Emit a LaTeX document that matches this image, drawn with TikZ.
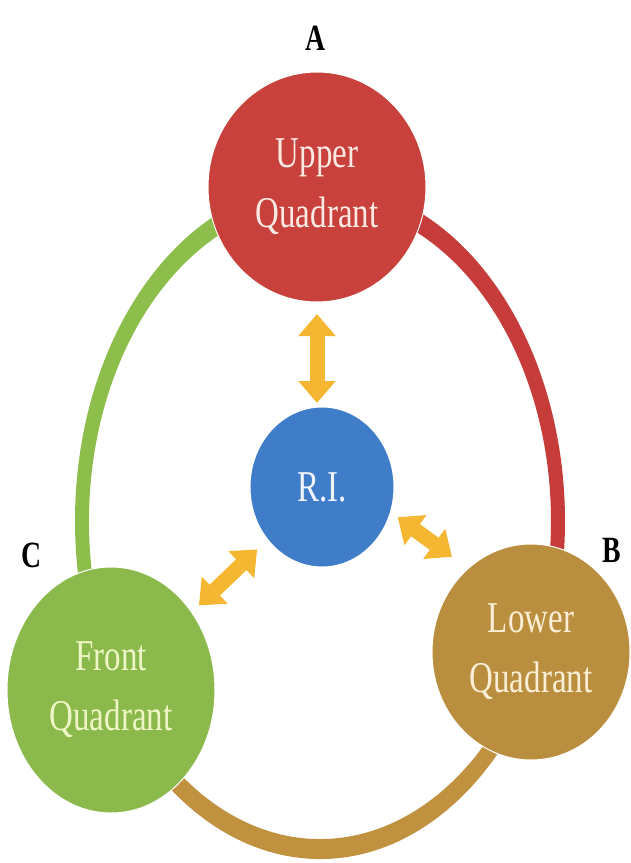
\documentclass[tikz,border=0pt]{standalone}
\usepackage{fontspec}
\setmainfont{Liberation Serif}
\newfontfamily\condfont[FakeStretch=0.75]{Liberation Serif}
\usetikzlibrary{shapes.geometric,arrows.meta,calc}
\definecolor{cred}{HTML}{C8413C}
\definecolor{cgreen}{HTML}{8CB94B}
\definecolor{cbrown}{HTML}{B98E3E}
\definecolor{cblue}{HTML}{3F7DC8}
\definecolor{corange}{HTML}{F5B732}
\definecolor{rgreen}{HTML}{8DBE4C}
\definecolor{rred}{HTML}{C63C3A}
\definecolor{rbrown}{HTML}{C09240}
\definecolor{tred}{HTML}{FDE9E4}
\definecolor{tgreen}{HTML}{EEF5C6}
\definecolor{tbrown}{HTML}{FAEFD6}
\definecolor{tblue}{HTML}{F0F4FF}
\tikzset{
  quad/.style={ellipse, inner sep=0pt, outer sep=0pt, draw=white, line width=1pt,
    align=center, font=\condfont\fontsize{44}{60}\selectfont},
  letter/.style={font=\condfont\bfseries\fontsize{37}{40}\selectfont, text=black},
  dblarrow/.style={corange, line width=15pt,
    {Triangle[width=36pt,length=22pt]}-{Triangle[width=36pt,length=22pt]}}
}
\begin{document}
\begin{tikzpicture}[x=1pt,y=1pt]
\useasboundingbox (0,0) rectangle (630,-863);
\coordinate (ringc) at (320,-521);
% ring segments
\fill[rgreen] ($(ringc)+(90:245 and 338)$) arc[start angle=90,end angle=211,x radius=245,y radius=338]
  -- ($(ringc)+(211:231 and 318)$) arc[start angle=211,end angle=90,x radius=231,y radius=318] -- cycle;
\fill[rbrown] ($(ringc)+(211:245 and 338)$) arc[start angle=211,end angle=338,x radius=245,y radius=338]
  -- ($(ringc)+(338:231 and 318)$) arc[start angle=338,end angle=211,x radius=231,y radius=318] -- cycle;
\fill[rred] ($(ringc)+(-22:245 and 338)$) arc[start angle=-22,end angle=90,x radius=245,y radius=338]
  -- ($(ringc)+(90:231 and 318)$) arc[start angle=90,end angle=-22,x radius=231,y radius=318] -- cycle;
% circles
\node[quad, fill=cred, text=tred, minimum width=218pt, minimum height=230pt] (up) at (317,-187) {Upper\\Quadrant};
\node[quad, fill=cgreen, text=tgreen, minimum width=208pt, minimum height=246pt] (front) at (111,-690) {Front\\Quadrant};
\node[quad, fill=cbrown, text=tbrown, minimum width=198pt, minimum height=216pt] (low) at (531,-652) {Lower\\Quadrant};
\node[quad, fill=cblue, text=tblue, minimum width=144pt, minimum height=160pt] (ri) at (322,-487) {R.I.};
% letters
\node[letter] (la) at (316,-38) {A};
\node[letter] (lb) at (612,-550) {B};
\node[letter] (lc) at (32,-555) {C};
% arrows
\draw[dblarrow, shorten <=12pt, shorten >=4pt] (up.south) -- (up.south |- ri.north);
\draw[dblarrow, shorten <=122pt, shorten >=90pt] (front.center) -- (ri.center);
\draw[dblarrow, shorten <=9pt, shorten >=20pt] (ri.-20) -- (low.127);
\end{tikzpicture}
\end{document}
